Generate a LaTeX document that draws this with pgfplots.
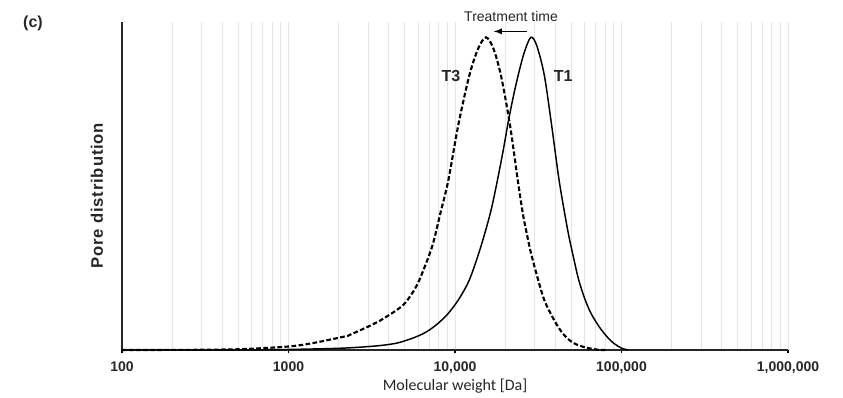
\documentclass[border=0pt]{standalone}
\usepackage{pgfplots}
\pgfplotsset{compat=1.18}
\usepackage{fontspec}
\setmainfont{Liberation Sans}
\newfontfamily\calibri{Carlito}
\begin{document}
\begin{tikzpicture}
\path[use as bounding box] (-91.5pt,-35.25pt) rectangle (540.75pt,262.5pt);
\begin{axis}[
  at={(0pt,0pt)}, anchor=south west,
  scale only axis, width=499.5pt, height=246pt,
  xmode=log, xmin=100, xmax=1000000, ymin=0, ymax=1.049,
  axis x line*=bottom, axis y line*=left,
  axis line style={line width=0.9pt, black!85},
  xtick={100,1000,10000,100000,1000000},
  xticklabels={100,1000,{10,000},{100,000},{1,000,000}},
  minor xtick={200,300,400,500,600,700,800,900,2000,3000,4000,5000,6000,7000,8000,9000,20000,30000,40000,50000,60000,70000,80000,90000,200000,300000,400000,500000,600000,700000,800000,900000},
  ytick=\empty,
  xmajorgrids, xminorgrids,
  major grid style={black!10, line width=0.6pt},
  minor grid style={black!10, line width=0.6pt},
  tick align=outside, major tick length=2.5pt, minor tick length=0pt,
  major tick style={black, line width=0.8pt},
  xticklabel style={font=\fontsize{10.5}{12}\selectfont\bfseries\color{black!85}, yshift=-3pt},
  xlabel={Molecular weight [Da]},
  xlabel style={font=\calibri\fontsize{12}{14}\selectfont\color{black!85}, at={(axis description cs:0.5,0)}, anchor=center, yshift=-27pt},
  ylabel={\addfontfeature{LetterSpace=5}Pore distribution},
  ylabel style={font=\fontsize{12.5}{14}\selectfont\bfseries\color{black!85}, at={(axis description cs:-0.0375,0.47)}, anchor=center},
  clip=false,
]
\addplot[black, line width=1.1pt, smooth] coordinates {
(100,0) (316,0) (603,0.0005) (1072,0.002) (2138,0.006) (3436,0.0135) (4467,0.022) (5445,0.036) (6310,0.050) (7015,0.064) (7943,0.086) (9036,0.115) (10470,0.160) (12190,0.224) (14190,0.325) (16290,0.437) (17780,0.530) (19500,0.64) (20890,0.73) (22390,0.81) (23990,0.88) (26000,0.95) (28500,1.0) (30900,0.975) (34360,0.880) (38020,0.72) (42270,0.540) (47530,0.383) (51290,0.30) (55340,0.224) (60260,0.163) (65610,0.117) (73960,0.072) (82600,0.040) (90570,0.020) (100000,0.006) (109650,0)
};
\addplot[black, line width=1.6pt, dash pattern=on 3.5pt off 1.8pt, smooth] coordinates {
(100,0) (200,0.0003) (343,0.001) (543,0.003) (989,0.011) (1365,0.021) (2163,0.043) (2371,0.050) (3436,0.090) (4742,0.138) (5445,0.176) (6109,0.224) (7278,0.330) (8166,0.437) (9120,0.543) (10470,0.72) (12190,0.878) (13800,0.965) (15350,1.0) (16980,0.965) (18880,0.878) (21380,0.72) (23820,0.543) (25530,0.437) (26730,0.383) (28310,0.32) (30620,0.25) (34360,0.160) (39450,0.095) (43650,0.058) (47530,0.036) (52480,0.020) (59840,0.009) (67610,0.003) (75000,0) (80000,0)
};
\node[font=\fontsize{12}{14}\selectfont\bfseries, text=black!85] at (axis cs:9460,0.875) {T3};
\node[font=\fontsize{12}{14}\selectfont\bfseries, text=black!85] at (axis cs:44600,0.875) {T1};
\node[font=\fontsize{10.5}{12}\selectfont, text=black!85] at (axis cs:21700,1.067) {Treatment time};
\draw[-latex, line width=1.1pt] (axis cs:27000,1.019) -- (axis cs:17100,1.019);
\end{axis}
\node[font=\fontsize{12}{14}\selectfont\bfseries, text=black!85] at (-66.75pt,245.25pt) {(c)};
\end{tikzpicture}
\end{document}
